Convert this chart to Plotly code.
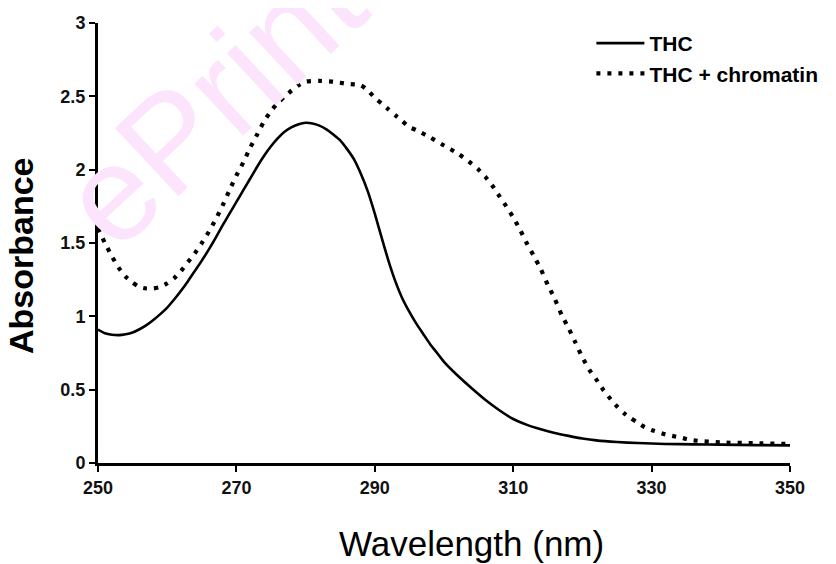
import plotly.graph_objects as go

# Wavelength (nm) and absorbance values
thc_wavelength = [250, 251, 252, 253, 254, 255, 256, 257, 258, 259, 260, 261, 262, 263, 264,
                  265, 266, 267, 268, 269, 270, 271, 272, 273, 274, 275, 276, 277, 278, 279,
                  280, 281, 282, 283, 284, 285, 286, 287, 288, 289, 290, 291, 292, 293, 294,
                  295, 296, 297, 298, 299, 300, 302, 304, 306, 308, 310, 312, 314, 316, 318,
                  320, 322, 325, 328, 332, 336, 340, 345, 350]
thc_absorbance = [0.91, 0.885, 0.875, 0.872, 0.878, 0.89, 0.912, 0.94, 0.975, 1.015, 1.06, 1.115,
                  1.175, 1.24, 1.31, 1.38, 1.455, 1.535, 1.62, 1.70, 1.78, 1.86, 1.94, 2.02, 2.095,
                  2.16, 2.215, 2.26, 2.29, 2.31, 2.32, 2.315, 2.30, 2.275, 2.24, 2.20, 2.14, 2.07,
                  1.97, 1.85, 1.70, 1.535, 1.375, 1.235, 1.12, 1.03, 0.95, 0.88, 0.81, 0.75, 0.69,
                  0.595, 0.51, 0.43, 0.36, 0.30, 0.26, 0.23, 0.205, 0.185, 0.167, 0.154, 0.143,
                  0.136, 0.13, 0.127, 0.125, 0.122, 0.12]

chrom_wavelength = [250, 251, 252, 253, 254, 255, 256, 257, 258, 259, 260, 261, 262, 263, 264,
                    265, 266, 267, 268, 269, 270, 271, 272, 273, 274, 275, 276, 277, 278, 279,
                    280, 282, 284, 286, 288, 289, 290, 291, 292, 293, 294, 295, 296, 298, 300,
                    302, 304, 305, 306, 307, 308, 309, 310, 311, 312, 313, 314, 315, 316, 317,
                    318, 319, 320, 321, 322, 323, 324, 325, 326, 327, 328, 329, 330, 332, 334,
                    336, 340, 345, 350]
chrom_absorbance = [1.60, 1.50, 1.41, 1.33, 1.27, 1.23, 1.20, 1.19, 1.19, 1.20, 1.225, 1.26,
                    1.31, 1.37, 1.43, 1.50, 1.575, 1.66, 1.755, 1.86, 1.96, 2.05, 2.15, 2.24,
                    2.33, 2.40, 2.455, 2.50, 2.54, 2.575, 2.60, 2.605, 2.60, 2.585, 2.575, 2.54,
                    2.49, 2.45, 2.41, 2.37, 2.33, 2.29, 2.27, 2.22, 2.165, 2.11, 2.04, 2.00, 1.95,
                    1.89, 1.82, 1.75, 1.675, 1.59, 1.495, 1.41, 1.32, 1.215, 1.12, 1.01, 0.92,
                    0.82, 0.72, 0.635, 0.57, 0.50, 0.44, 0.385, 0.34, 0.305, 0.275, 0.245, 0.225,
                    0.195, 0.175, 0.155, 0.14, 0.135, 0.13]

x_ticks = [250, 270, 290, 310, 330, 350]
y_ticks = [0, 0.5, 1, 1.5, 2, 2.5, 3]
y_tick_labels = ["0", "0.5", "1", "1.5", "2", "2.5", "3"]

fig = go.Figure()
fig.add_trace(go.Scatter(
    x=thc_wavelength, y=thc_absorbance, mode="lines", name="THC",
    line=dict(color="black", width=2.6, shape="spline", smoothing=0.6),
))
fig.add_trace(go.Scatter(
    x=chrom_wavelength, y=chrom_absorbance, mode="lines", name="THC + chromatin",
    line=dict(color="black", width=4.2, dash="4px,7px", shape="spline", smoothing=0.6),
))

tick_font = dict(family="Liberation Sans Narrow, Liberation Sans, Arial", size=18,
                 color="#111", weight="bold")

fig.update_layout(
    width=836, height=564, autosize=False,
    margin=dict(l=90, r=54, t=15, b=109, autoexpand=False),
    paper_bgcolor="white", plot_bgcolor="white",
    showlegend=True,
    legend=dict(
        x=0.713, y=1.0, xanchor="left", yanchor="top",
        font=dict(family="Liberation Sans, Arial", size=21, color="black", weight="bold"),
        bgcolor="rgba(0,0,0,0)", tracegroupgap=0, itemwidth=48,
    ),
    xaxis=dict(
        range=[250, 350], tickvals=x_ticks, ticktext=[str(v) for v in x_ticks],
        showgrid=False, zeroline=False, automargin=False,
        showline=True, linecolor="black", linewidth=3,
        ticks="outside", ticklen=6, tickwidth=2, tickcolor="black",
        tickfont=tick_font,
    ),
    yaxis=dict(
        range=[0, 3], tickvals=y_ticks, ticktext=y_tick_labels,
        showgrid=False, zeroline=False, automargin=False,
        showline=True, linecolor="black", linewidth=3,
        ticks="outside", ticklen=6, tickwidth=2, tickcolor="black",
        tickfont=tick_font,
    ),
    annotations=[
        dict(text="ePrints", xref="paper", yref="paper", x=0.201, y=0.877,
             xanchor="center", yanchor="middle",
             showarrow=False, textangle=-43,
             font=dict(family="Liberation Sans, Arial", size=135, color="#fde4fd")),
        dict(text="Absorbance", xref="paper", yref="paper", x=0, y=0.5, xshift=-77, yshift=-13,
             xanchor="center", yanchor="middle", showarrow=False, textangle=-90,
             font=dict(family="Liberation Sans, Arial", size=34, color="black", weight="bold")),
        dict(text="Wavelength (nm)", xref="paper", yref="paper", x=0.54, y=0, yshift=-80,
             xanchor="center", yanchor="middle", showarrow=False,
             font=dict(family="Liberation Sans, Arial", size=35, color="black")),
    ],
)

fig.write_html("out.html", config={"responsive": False, "displayModeBar": False})
